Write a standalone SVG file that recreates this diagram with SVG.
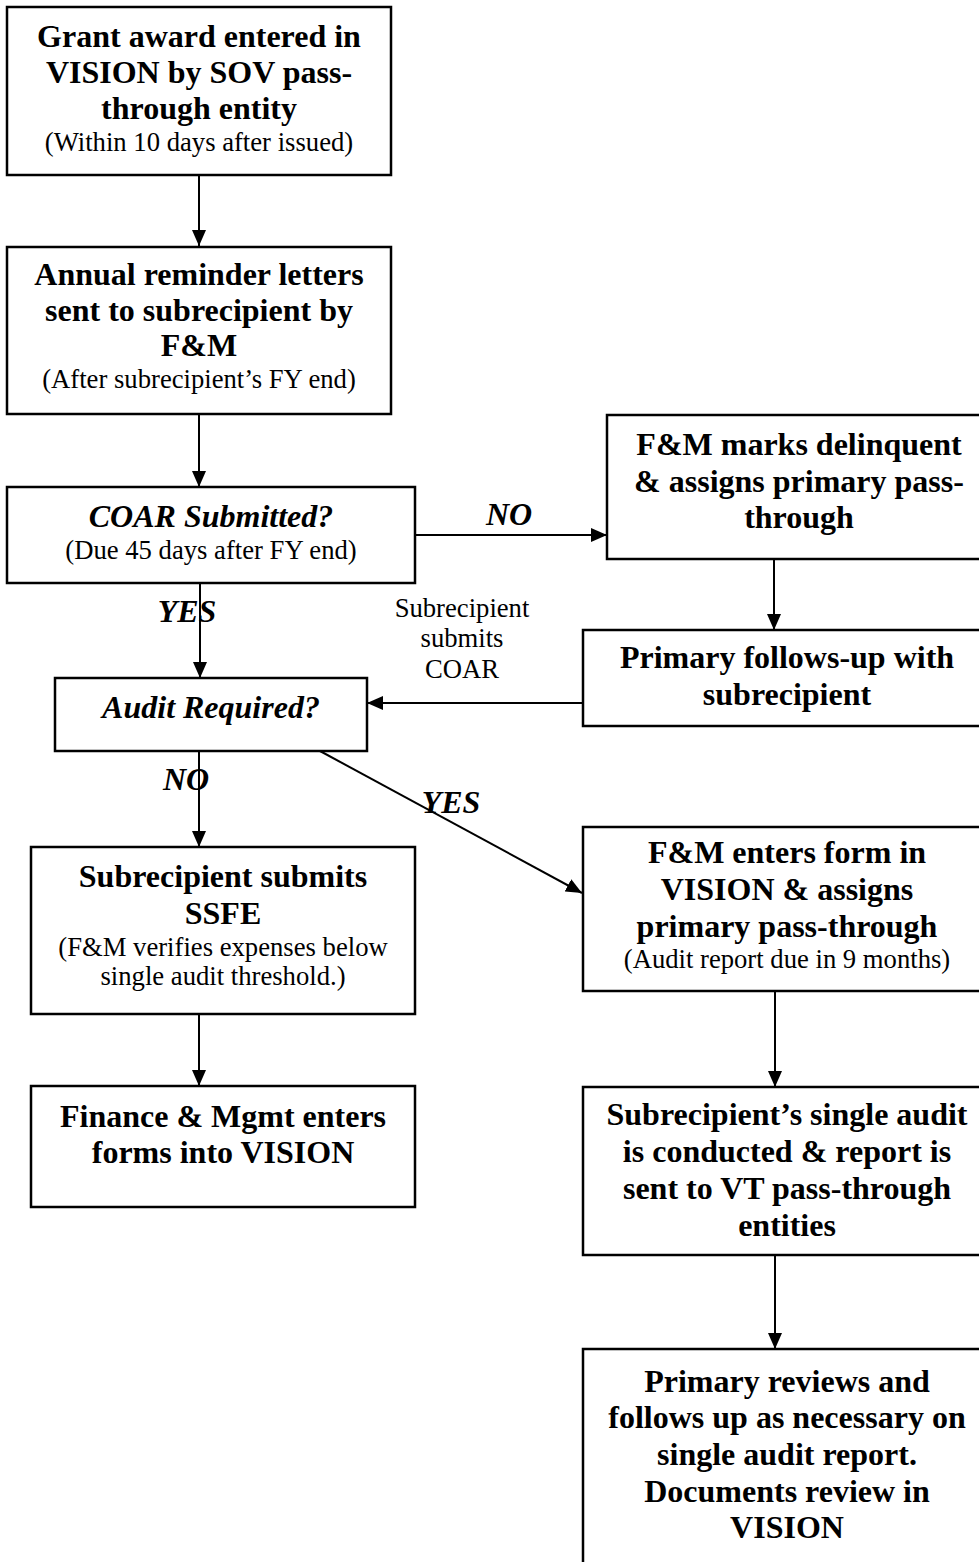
<svg xmlns="http://www.w3.org/2000/svg" width="979" height="1562" viewBox="0 0 979 1562">
<style>
.box{fill:#fff;stroke:#000;stroke-width:2.5}
.b{font-family:"Liberation Serif","Times New Roman",serif;font-size:32px;font-weight:bold;text-anchor:middle;fill:#000}
.bi{font-family:"Liberation Serif","Times New Roman",serif;font-size:32px;font-weight:bold;font-style:italic;text-anchor:middle;fill:#000}
.r{font-family:"Liberation Serif","Times New Roman",serif;font-size:26.67px;text-anchor:middle;fill:#000}
.ln{stroke:#000;stroke-width:2;fill:none;marker-end:url(#ah)}
</style>
<defs>
<marker id="ah" markerUnits="userSpaceOnUse" markerWidth="16" markerHeight="14" refX="16" refY="7" orient="auto">
<path d="M0,0 L16,7 L0,14 z" fill="#000"/>
</marker>
</defs>
<rect width="979" height="1562" fill="#fff"/>
<g id="connectors">
<line class="ln" x1="199" y1="175" x2="199" y2="246"/>
<line class="ln" x1="199" y1="414" x2="199" y2="487"/>
<line class="ln" x1="415" y1="535" x2="607" y2="535"/>
<line class="ln" x1="200" y1="583" x2="200" y2="678"/>
<line class="ln" x1="774" y1="559" x2="774" y2="630"/>
<line class="ln" x1="583" y1="703" x2="367" y2="703"/>
<line class="ln" x1="199" y1="751" x2="199" y2="847"/>
<line class="ln" x1="320" y1="751" x2="582" y2="893"/>
<line class="ln" x1="199" y1="1014" x2="199" y2="1086"/>
<line class="ln" x1="775" y1="991" x2="775" y2="1087"/>
<line class="ln" x1="775" y1="1255" x2="775" y2="1349"/>
<text class="bi" x="509" y="525">NO</text>
<text class="bi" x="187" y="622">YES</text>
<text class="r" x="462" y="617">Subrecipient</text>
<text class="r" x="462" y="647">submits</text>
<text class="r" x="462" y="678">COAR</text>
<text class="bi" x="186" y="790">NO</text>
<text class="bi" x="451" y="813">YES</text>
</g>
<g id="n1">
<rect class="box" x="7" y="7" width="384" height="168"/>
<text class="b" x="199" y="47">Grant award entered in</text>
<text class="b" x="199" y="83">VISION by SOV pass-</text>
<text class="b" x="199" y="119">through entity</text>
<text class="r" x="199" y="151">(Within 10 days after issued)</text>
</g>
<g id="n2">
<rect class="box" x="7" y="247" width="384" height="167"/>
<text class="b" x="199" y="285">Annual reminder letters</text>
<text class="b" x="199" y="321">sent to subrecipient by</text>
<text class="b" x="199" y="356">F&amp;M</text>
<text class="r" x="199" y="388">(After subrecipient’s FY end)</text>
</g>
<g id="n3">
<rect class="box" x="7" y="487" width="408" height="96"/>
<text class="bi" x="211" y="527">COAR Submitted?</text>
<text class="r" x="211" y="559">(Due 45 days after FY end)</text>
</g>
<g id="n4">
<rect class="box" x="607" y="415" width="390" height="144"/>
<text class="b" x="799" y="455">F&amp;M marks delinquent</text>
<text class="b" x="799" y="492">&amp; assigns primary pass-</text>
<text class="b" x="799" y="528">through</text>
</g>
<g id="n5">
<rect class="box" x="583" y="630" width="414" height="96"/>
<text class="b" x="787" y="668">Primary follows-up with</text>
<text class="b" x="787" y="705">subrecipient</text>
</g>
<g id="n6">
<rect class="box" x="55" y="678" width="312" height="73"/>
<text class="bi" x="211" y="718">Audit Required?</text>
</g>
<g id="n7">
<rect class="box" x="31" y="847" width="384" height="167"/>
<text class="b" x="223" y="887">Subrecipient submits</text>
<text class="b" x="223" y="924">SSFE</text>
<text class="r" x="223" y="956">(F&amp;M verifies expenses below</text>
<text class="r" x="223" y="985">single audit threshold.)</text>
</g>
<g id="n8">
<rect class="box" x="31" y="1086" width="384" height="121"/>
<text class="b" x="223" y="1127">Finance &amp; Mgmt enters</text>
<text class="b" x="223" y="1163">forms into VISION</text>
</g>
<g id="n9">
<rect class="box" x="583" y="827" width="414" height="164"/>
<text class="b" x="787" y="863">F&amp;M enters form in</text>
<text class="b" x="787" y="900">VISION &amp; assigns</text>
<text class="b" x="787" y="937">primary pass-through</text>
<text class="r" x="787" y="968">(Audit report due in 9 months)</text>
</g>
<g id="n10">
<rect class="box" x="583" y="1087" width="414" height="168"/>
<text class="b" x="787" y="1125">Subrecipient’s single audit</text>
<text class="b" x="787" y="1162">is conducted &amp; report is</text>
<text class="b" x="787" y="1199">sent to VT pass-through</text>
<text class="b" x="787" y="1236">entities</text>
</g>
<g id="n11">
<rect class="box" x="583" y="1349" width="414" height="230"/>
<text class="b" x="787" y="1392">Primary reviews and</text>
<text class="b" x="787" y="1428">follows up as necessary on</text>
<text class="b" x="787" y="1465">single audit report.</text>
<text class="b" x="787" y="1502">Documents review in</text>
<text class="b" x="787" y="1538">VISION</text>
</g>
</svg>
